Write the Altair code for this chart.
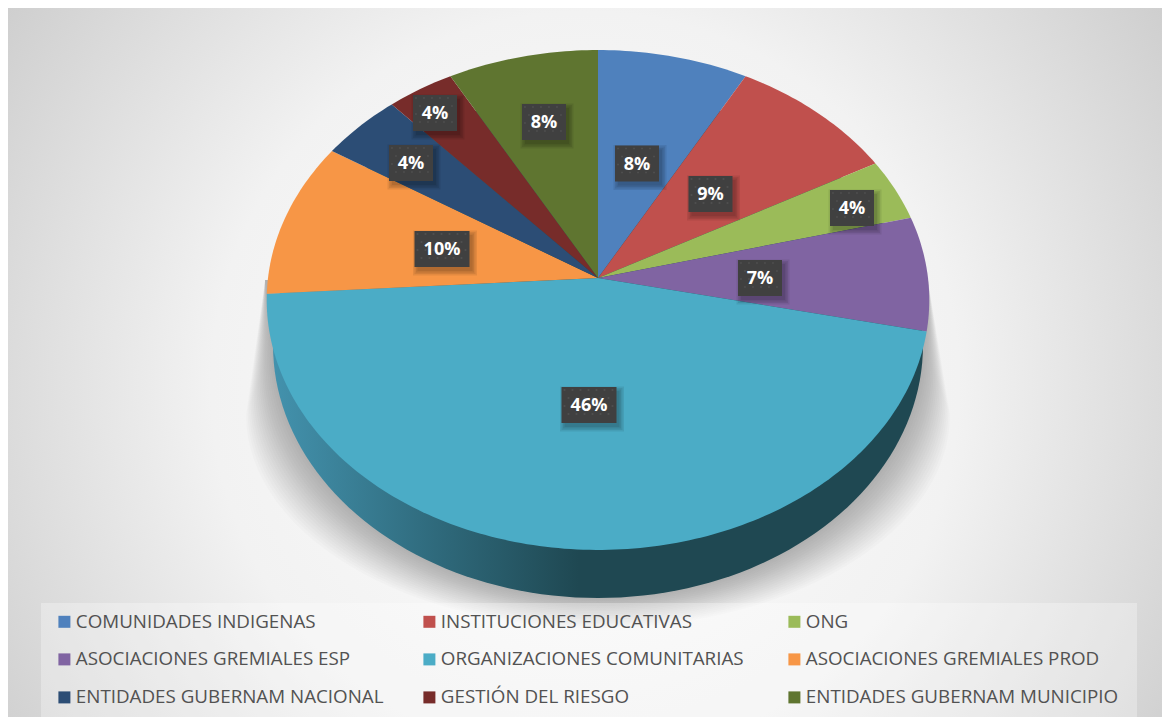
import math
import altair as alt
import pandas as pd

names = ["COMUNIDADES INDIGENAS", "INSTITUCIONES EDUCATIVAS", "ONG",
         "ASOCIACIONES GREMIALES ESP", "ORGANIZACIONES COMUNITARIAS", "ASOCIACIONES GREMIALES PROD",
         "ENTIDADES GUBERNAM NACIONAL", "GESTIÓN DEL RIESGO", "ENTIDADES GUBERNAM MUNICIPIO"]
values = [8.0, 9.0, 4.0, 7.4, 45.6, 10.0, 4.4, 3.6, 8.0]
colors = ["#4f81bd", "#c0504d", "#9bbb59", "#8064a2", "#4bacc6", "#f79646", "#2c4d75", "#772c2a", "#5f7530"]
label_x = [637, 710.5, 852, 760, 589, 442, 411, 435, 544]
label_y = [163.5, 194, 208, 278, 405, 249, 163, 113, 122]

W, H = 1154, 709
X = alt.X("x:Q", scale=alt.Scale(domain=[8, 1162]), axis=None)
X2 = alt.X2("x2:Q")
Y = alt.Y("y:Q", scale=alt.Scale(domain=[717, 8]), axis=None)
Y2 = alt.Y2("y2:Q")

# Perspective view of the pie's top face
CX, CY, A, B, E = 598, 278, 330, 248, 0.088


def project(pct):
    a = math.radians(pct * 3.6)
    w = 1 + E * math.cos(a)
    return CX + A * math.sin(a) / w, CY - B * math.cos(a) / w


rows, start = [], 0.0
for name, v in zip(names, values):
    pts = [(CX, CY)]
    n = max(2, int(v * 3.6))
    for j in range(n + 1):
        pts.append(project(start + v * j / n))
    for i, (px, py) in enumerate(pts):
        rows.append({"name": name, "i": i, "x": px, "y": py})
    start += v
slices = pd.DataFrame(rows)

# Side wall: lower rim as a complete ellipse under the top face
WX, WY, WRX, WRY = 598, 345, 325, 253
wall = pd.DataFrame([
    {"i": d, "x": WX + WRX * math.cos(math.radians(d)), "y": WY + WRY * math.sin(math.radians(d))}
    for d in range(0, 360, 2)
])

# Soft shadow behind the wall
shadow_rows = []
LAYERS = 18
for k in range(LAYERS):
    f = (k + 1) / LAYERS
    rx, ry = WRX + 27 * f, WRY + 30 * f
    pts = [(CX + 330, 280)]
    for d in range(0, 181, 3):
        pts.append((WX + rx * math.cos(math.radians(d)), WY + 70 * f + (ry - 70 * f) * math.sin(math.radians(d))))
    pts.append((CX - 333, 280))
    for i, (px, py) in enumerate(pts):
        shadow_rows.append({"layer": k, "i": i, "x": px, "y": py})
shadow = pd.DataFrame(shadow_rows)

# Data labels: box, shadow and dotted texture
pct_text = [f"{round(v)}%" for v in values]
boxes, shades, dots = [], [], []
for t, lx, ly in zip(pct_text, label_x, label_y):
    hw = 27.5 if len(t) == 3 else 22
    hh = 18
    boxes.append({"text": t, "cx": lx, "cy": ly + 1, "x": lx - hw, "x2": lx + hw, "y": ly - hh, "y2": ly + hh})
    for g in (0, 1.5, 3, 4.5):
        shades.append({"x": lx - hw + 3 - g, "x2": lx + hw + 3 + g, "y": ly - hh + 4 - g, "y2": ly + hh + 4 + g})
    r = 0
    yy = ly - hh + 3
    while yy < ly + hh - 1:
        xx = lx - hw + (3 if r % 2 == 0 else 7)
        while xx < lx + hw - 1:
            dots.append({"x": xx, "y": yy})
            xx += 8
        yy += 8
        r += 1
boxes, shades, dots = map(pd.DataFrame, (boxes, shades, dots))

frame = pd.DataFrame({"x": [8], "x2": [1162], "y": [8], "y2": [717]})
legend_box = pd.DataFrame({"x": [41], "x2": [1137], "y": [603], "y2": [717]})

bg_gradient = alt.RadialGradient(
    gradient="radial", x1=0.5, y1=0.52, x2=0.5, y2=0.52, r1=0, r2=0.72,
    stops=[alt.GradientStop(offset=0, color="#fdfdfd"),
           alt.GradientStop(offset=0.45, color="#f2f2f2"),
           alt.GradientStop(offset=1, color="#bfbfbf")])
wall_gradient = alt.LinearGradient(
    gradient="linear", x1=0, x2=1, y1=0, y2=0,
    stops=[alt.GradientStop(offset=0, color="#4392ad"),
           alt.GradientStop(offset=0.25, color="#2f6a7c"),
           alt.GradientStop(offset=0.47, color="#1f4852"),
           alt.GradientStop(offset=1, color="#1f4852")])

background = alt.Chart(frame).mark_rect(fill=bg_gradient).encode(x=X, x2=X2, y=Y, y2=Y2)
shadow_layer = alt.Chart(shadow).mark_line(fill="#000000", fillOpacity=0.014, strokeWidth=0).encode(
    x=X, y=Y, detail="layer:N", order="i:Q")
wall_layer = alt.Chart(wall).mark_line(fill=wall_gradient, strokeWidth=0).encode(x=X, y=Y, order="i:Q")
legend_rect = alt.Chart(legend_box).mark_rect(fill="#ffffff", fillOpacity=0.3).encode(x=X, x2=X2, y=Y, y2=Y2)
pie = alt.Chart(slices).mark_line(strokeWidth=0).encode(
    x=X, y=Y, order="i:Q",
    fill=alt.Fill("name:N", scale=alt.Scale(domain=names, range=colors), sort=names,
                  legend=alt.Legend(title=None, orient="none", direction="horizontal", columns=3,
                                    legendX=47, legendY=604, padding=0, gridAlign="all",
                                    symbolType="square", symbolSize=144, symbolStrokeWidth=0,
                                    symbolOpacity=1, labelFont="Open Sans", labelFontSize=18.8,
                                    labelColor="#525252", labelOffset=2, labelLimit=400,
                                    columnPadding=31, rowPadding=18)))
shade_layer = alt.Chart(shades).mark_rect(fill="#000000", fillOpacity=0.08).encode(x=X, x2=X2, y=Y, y2=Y2)
box_layer = alt.Chart(boxes).mark_rect(fill="#404040").encode(x=X, x2=X2, y=Y, y2=Y2)
dot_layer = alt.Chart(dots).mark_square(size=3, color="#505050", opacity=1).encode(x=X, y=Y)
text_layer = alt.Chart(boxes).mark_text(font="Open Sans", fontSize=18, fontWeight=700, color="#ffffff").encode(
    x=alt.X("cx:Q", scale=alt.Scale(domain=[8, 1162]), axis=None),
    y=alt.Y("cy:Q", scale=alt.Scale(domain=[717, 8]), axis=None),
    text="text:N")

chart = alt.layer(background, shadow_layer, legend_rect, wall_layer, pie, shade_layer, box_layer,
                  dot_layer, text_layer).properties(
    width=W, height=H, padding=0, autosize=alt.AutoSizeParams(type="none")
).configure_view(stroke=None)

chart.save("out.html", embed_options={"renderer": "svg", "actions": False})
